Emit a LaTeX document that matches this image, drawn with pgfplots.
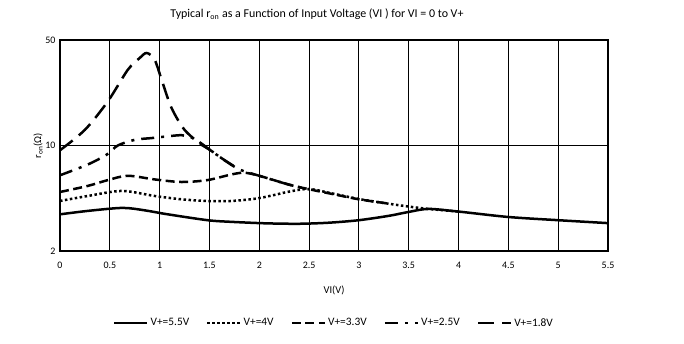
\documentclass[border=0pt]{standalone}
\usepackage{fontspec}
\setmainfont{Carlito}
\usepackage{pgfplots}
\pgfplotsset{compat=1.18}
\begin{document}
\begin{tikzpicture}[x=1bp,y=1bp]
\useasboundingbox (0,0) rectangle (684,343);
\begin{axis}[
  at={(60bp,92bp)}, anchor=south west, scale only axis,
  width=548bp, height=211bp,
  xmin=0, xmax=5.5, ymode=log, ymin=2, ymax=50,
  xtick={0,0.5,1,1.5,2,2.5,3,3.5,4,4.5,5,5.5},
  xticklabels={0,0.5,1,1.5,2,2.5,3,3.5,4,4.5,5,5.5},
  ytick={2,10,50}, yticklabels={2,10,50},
  /pgf/number format/assume math mode=true,
  tick style={draw=none},
  grid=major, major grid style={black, line width=0.9pt},
  axis line style={line width=2.6pt},
  ticklabel style={font=\fontsize{10}{11}\selectfont},
  xticklabel style={yshift=-8bp},
  yticklabel style={xshift=-1bp},
  xlabel={VI(V)}, ylabel={r\textsubscript{on}(Ω)},
  label style={font=\fontsize{10.5}{12}\selectfont},
  xlabel style={at={(axis description cs:0.5,-0.185)}, anchor=center},
  ylabel style={at={(axis description cs:-0.040,0.5)}, anchor=center},
  title={Typical r\textsubscript{on} as a Function of Input Voltage (VI ) for VI = 0 to V+},
  title style={font=\fontsize{12}{14}\selectfont, at={(axis description cs:0.469,1.095)}, anchor=center},
  legend columns=5,
  legend style={at={(0.5,-0.341)}, anchor=center, draw=none, font=\fontsize{11.4}{13}\selectfont,
    /tikz/every even column/.append style={column sep=15bp}},
  legend image code/.code={\draw[#1] (0bp,0bp) -- (33bp,0bp);},
]
\addplot[black, line width=2.5bp, smooth, tension=0.5] coordinates {(0,3.5)(0.3,3.7)(0.63,3.86)(0.85,3.72)(1.07,3.51)(1.48,3.2)(1.72,3.12)(2.07,3.05)(2.4,3.03)(2.7,3.08)(3.0,3.2)(3.3,3.42)(3.5,3.63)(3.7,3.8)(4.0,3.65)(4.5,3.36)(5.0,3.2)(5.5,3.06)};
\addlegendentry{V+=5.5V}
\addplot[black, line width=2.5bp, smooth, tension=0.5, dash pattern=on 2.5bp off 2.5bp] coordinates {(0,4.29)(0.28,4.63)(0.62,5.0)(0.95,4.63)(1.22,4.4)(1.48,4.29)(1.72,4.29)(1.97,4.45)(2.15,4.7)(2.3,4.95)(2.5,5.15)(2.75,4.78)(3.0,4.42)(3.27,4.14)(3.5,3.94)(3.7,3.8)(4.0,3.65)};
\addlegendentry{V+=4V}
\addplot[black, line width=2.5bp, smooth, tension=0.5, dash pattern=on 9bp off 4.5bp] coordinates {(0,4.92)(0.28,5.4)(0.48,5.9)(0.68,6.3)(0.95,5.96)(1.22,5.73)(1.48,5.9)(1.72,6.43)(1.85,6.6)(2.0,6.3)(2.3,5.5)(2.5,5.13)(2.75,4.75)(3.0,4.4)(3.3,4.12)};
\addlegendentry{V+=3.3V}
\addplot[black, line width=2.5bp, smooth, tension=0.5, dash pattern=on 13bp off 7bp on 3bp off 7bp] coordinates {(0,6.35)(0.28,7.49)(0.47,8.71)(0.58,10.0)(0.75,10.9)(0.92,11.2)(1.08,11.5)(1.22,11.7)(1.32,11.3)(1.42,10.3)(1.5,9.4)(1.65,8.0)(1.8,6.94)(2.0,6.3)(2.3,5.5)(2.5,5.13)};
\addlegendentry{V+=2.5V}
\addplot[black, line width=2.5bp, smooth, tension=0.5, dash pattern=on 16bp off 8bp] coordinates {(0,9.3)(0.25,12.7)(0.48,19.6)(0.68,31.7)(0.8,38)(0.87,41)(0.95,37)(1.03,26)(1.12,17.7)(1.25,12.7)(1.42,10.1)(1.5,9.4)(1.65,8.0)(1.8,6.94)};
\addlegendentry{V+=1.8V}
\end{axis}
\end{tikzpicture}
\end{document}
